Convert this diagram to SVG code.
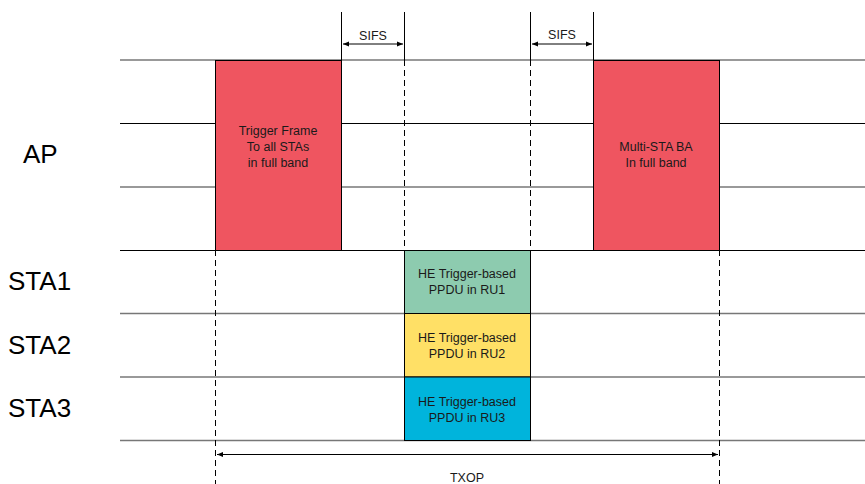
<svg xmlns="http://www.w3.org/2000/svg" width="865" height="484" viewBox="0 0 865 484">
  <style>
    .lbl { font-family: "Liberation Sans", Arial, sans-serif; font-size: 26px; fill: #000; }
    .txt { font-family: "Liberation Sans", Arial, sans-serif; font-size: 12.5px; fill: #1a1a1a; text-anchor: middle; }
    .row { stroke: #000; stroke-width: 1.2; }
    .rowg { stroke: #777; stroke-width: 1.6; }
    .vsolid { stroke: #000; stroke-width: 1; }
    .vdash { stroke: #000; stroke-width: 1; stroke-dasharray: 6 4; }
    .box { stroke: #000; stroke-width: 1; }
    .arrow { stroke: #000; stroke-width: 1; marker-start: url(#ah); marker-end: url(#ah); }
  </style>
  <defs>
    <marker id="ah" viewBox="0 0 10 10" refX="10" refY="5" markerWidth="7" markerHeight="6" orient="auto-start-reverse" markerUnits="userSpaceOnUse">
      <path d="M0,1 L10,5 L0,9 z" fill="#000"/>
    </marker>
  </defs>
  <rect width="865" height="484" fill="#fff"/>

  <!-- time rows -->
  <g id="rows">
    <line class="rowg" x1="120" y1="60" x2="865" y2="60"/>
    <line class="row" x1="120" y1="123.5" x2="865" y2="123.5"/>
    <line class="rowg" x1="120" y1="187" x2="865" y2="187"/>
    <line class="row" x1="120" y1="250.5" x2="865" y2="250.5"/>
    <line class="rowg" x1="120" y1="313.5" x2="865" y2="313.5"/>
    <line class="rowg" x1="120" y1="377" x2="865" y2="377"/>
    <line class="rowg" x1="120" y1="440.5" x2="865" y2="440.5"/>
  </g>

  <!-- row labels -->
  <g id="labels">
    <text class="lbl" x="23" y="163">AP</text>
    <text class="lbl" x="8" y="290">STA1</text>
    <text class="lbl" x="8" y="354">STA2</text>
    <text class="lbl" x="8" y="417">STA3</text>
  </g>

  <!-- boundary markers -->
  <g id="connectors">
    <line class="vsolid" x1="341.5" y1="12" x2="341.5" y2="60"/>
    <line class="vsolid" x1="404.5" y1="12" x2="404.5" y2="60"/>
    <line class="vdash" x1="404.5" y1="60" x2="404.5" y2="250"/>
    <line class="vsolid" x1="530.5" y1="12" x2="530.5" y2="60"/>
    <line class="vdash" x1="530.5" y1="60" x2="530.5" y2="250"/>
    <line class="vsolid" x1="593.5" y1="12" x2="593.5" y2="60"/>
    <line class="vdash" x1="215.5" y1="250" x2="215.5" y2="484"/>
    <line class="vdash" x1="719.5" y1="250" x2="719.5" y2="484"/>
    <line class="arrow" x1="343" y1="44" x2="403" y2="44"/>
    <line class="arrow" x1="532" y1="44" x2="592" y2="44"/>
    <line class="arrow" x1="217" y1="454.5" x2="718" y2="454.5"/>
    <text class="txt" x="373" y="39.5" font-size="13">SIFS</text>
    <text class="txt" x="562" y="38.5" font-size="13">SIFS</text>
    <text class="txt" x="467" y="482">TXOP</text>
  </g>

  <g id="trigger">
    <rect class="box" x="215.5" y="60.5" width="126" height="190" fill="#EF5560"/>
    <text class="txt" x="278" y="135">Trigger Frame</text>
    <text class="txt" x="278" y="151">To all STAs</text>
    <text class="txt" x="278" y="167">in full band</text>
  </g>

  <g id="ba">
    <rect class="box" x="593.5" y="60.5" width="126" height="190" fill="#EF5560"/>
    <text class="txt" x="656" y="151">Multi-STA BA</text>
    <text class="txt" x="656" y="167">In full band</text>
  </g>

  <g id="ru1">
    <rect class="box" x="404.5" y="250.5" width="126" height="63" fill="#8DCBAF"/>
    <text class="txt" x="467" y="277.5">HE Trigger-based</text>
    <text class="txt" x="467" y="294">PPDU in RU1</text>
  </g>

  <g id="ru2">
    <rect class="box" x="404.5" y="313.5" width="126" height="63.5" fill="#FFE066"/>
    <text class="txt" x="467" y="341.5">HE Trigger-based</text>
    <text class="txt" x="467" y="358">PPDU in RU2</text>
  </g>

  <g id="ru3">
    <rect class="box" x="404.5" y="377" width="126" height="63.5" fill="#00B4DC"/>
    <text class="txt" x="467" y="405.5">HE Trigger-based</text>
    <text class="txt" x="467" y="422">PPDU in RU3</text>
  </g>
</svg>
